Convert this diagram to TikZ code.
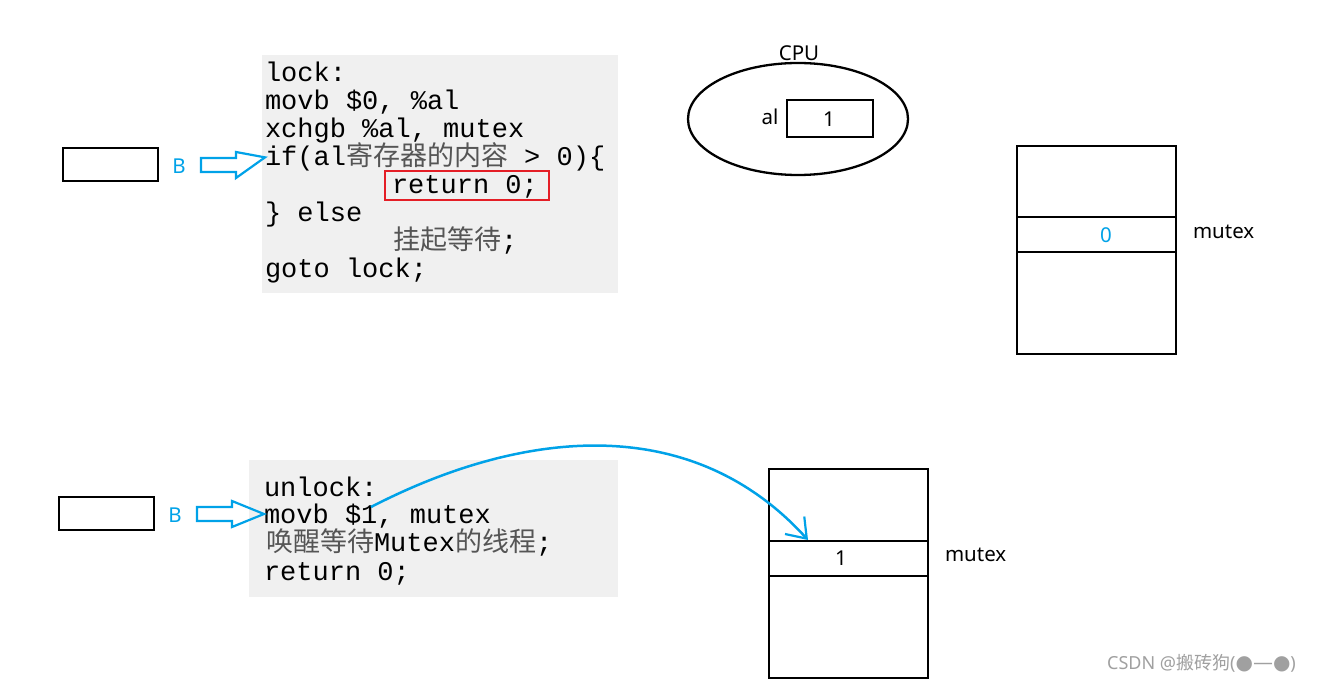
\documentclass[tikz,border=0pt]{standalone}
\usepackage{fontspec}
\usetikzlibrary{shapes.geometric,arrows.meta}
\newfontfamily\codefont{Liberation Mono}
\newfontfamily\cjkfont{Noto Sans CJK SC}
\newfontfamily\labelfont{Noto Sans}
\newfontfamily\symfont{DejaVu Sans}
\definecolor{codebg}{RGB}{240,240,240}
\definecolor{arrowblue}{RGB}{0,162,232}
\definecolor{boxred}{RGB}{228,30,38}
\definecolor{cjkgray}{RGB}{85,85,85}
\definecolor{wmgray}{RGB}{160,160,160}
\newcommand{\zhtext}[1]{{\cjkfont\color{cjkgray}#1}}
\begin{document}
\begin{tikzpicture}[x=1pt,y=-1pt,
  codeline/.style={anchor=base west, inner sep=0pt, outer sep=0pt, font=\codefont\fontsize{27}{28}\selectfont},
  lbl/.style={inner sep=0pt, outer sep=0pt, font=\labelfont\fontsize{20.5}{24}\selectfont},
  blk/.style={draw, line width=2.8pt, rectangle, inner sep=0pt, outer sep=0pt},
  cell/.style={blk, minimum width=159pt, anchor=north west},
  hollow/.style={draw=arrowblue, line width=2.2pt, line join=miter},
  flow/.style={draw=arrowblue, line width=2.5pt, -{Straight Barb[length=18pt,width=26pt,line width=2.2pt]}}
]
\useasboundingbox (0,0) rectangle (1324,684);
\fill[white] (0,0) rectangle (1324,684);

% code backgrounds
\fill[codebg] (262,55) rectangle (618,293);
\fill[codebg] (249,460) rectangle (618,597);

% top code
\node[codeline] (l1) at (265,82) {lock:};
\node[codeline] (l2) at (265,110) {movb \$0, \%al};
\node[codeline] (l3) at (265,138) {xchgb \%al, mutex};
\node[codeline] (l4) at (265,166) {if(al\zhtext{寄存器的内容} > 0)\{};
\node[codeline] (l5) at (392,194) {return 0;};
\node[codeline] (l6) at (265,222) {\}\ else};
\node[codeline] (l7) at (393,250) {\zhtext{挂起等待};};
\node[codeline] (l8) at (265,278) {goto lock;};
\draw[boxred, line width=2.2pt] (385,171) rectangle (549,200);

% bottom code
\node[codeline] (u1) at (264,496) {unlock:};
\node[codeline] (u2) at (264,523) {movb \$1, mutex};
\node[codeline] (u3) at (266,551) {\zhtext{唤醒等待}Mutex\zhtext{的线程};};
\node[codeline] (u4) at (264,580) {return 0;};

% left boxes, labels and hollow arrows
\node[blk, minimum width=95pt, minimum height=33pt, anchor=north west] (tb) at (63,148) {};
\node[lbl, text=arrowblue] (tbl) at (179,166) {B};
\draw[hollow] (201,158) -- (236,158) -- (236,152) -- (l4.west) -- (236,178) -- (236,172) -- (201,172) -- cycle;

\node[blk, minimum width=95pt, minimum height=33pt, anchor=north west] (bb) at (59,497) {};
\node[lbl, text=arrowblue] (bbl) at (175,515) {B};
\draw[hollow] (197,507) -- (232,507) -- (232,501) -- (264,514) -- (232,527) -- (232,521) -- (197,521) -- cycle;

% CPU
\node[draw, ellipse, line width=2.3pt, minimum width=220pt, minimum height=112pt, inner sep=0pt] (cpu) at (798,119) {};
\node[lbl] (cpul) at (799,53) {CPU};
\node[lbl] (all) at (770,117) {al};
\node[blk, minimum width=86pt, minimum height=37pt] (al) at (830,118.5) {};
\node[lbl] (alv) at (829,119) {1};

% top mutex
\node[cell, minimum height=71pt] (tm1) at (1017,146) {};
\node[cell, minimum height=35pt] (tm2) at (tm1.south west) {};
\node[cell, minimum height=102pt] (tm3) at (tm2.south west) {};
\node[lbl, text=arrowblue] (tmv) at (1106,235) {0};
\node[lbl, anchor=west] (tml) at (1193,232) {mutex};

% bottom mutex
\node[cell, minimum height=72pt] (bm1) at (769,469) {};
\node[cell, minimum height=35pt] (bm2) at (bm1.south west) {};
\node[cell, minimum height=102pt] (bm3) at (bm2.south west) {};
\node[lbl] (bmv) at (841,558) {1};
\node[lbl, anchor=west] (bml) at (945,555) {mutex};

% curved connector
\coordinate (src) at (371,507);
\coordinate (dst) at (808,540);
\draw[flow] (src) .. controls (520,430) and (690,410) .. (dst);

% watermark
\node[anchor=base west, inner sep=0pt, text=wmgray, font=\labelfont\fontsize{18}{20}\selectfont] (wm) at (1107,669) {CSDN @{\cjkfont 搬砖狗}({\symfont\fontsize{20}{20}\selectfont ●—●})};
\end{tikzpicture}
\end{document}
